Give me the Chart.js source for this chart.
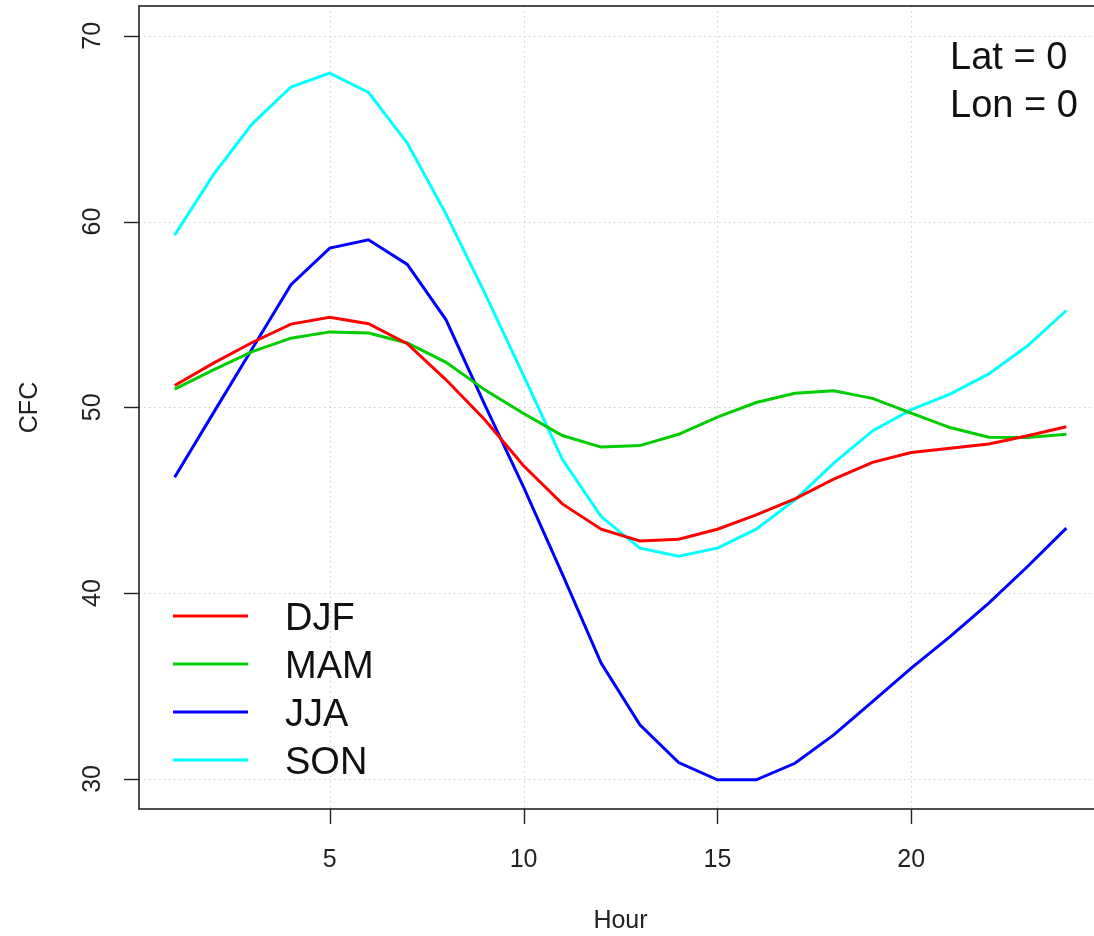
<!DOCTYPE html>
<html>
<head>
<meta charset="utf-8">
<script src="https://cdn.jsdelivr.net/npm/chart.js@4/dist/chart.umd.min.js"></script>
<style>
  html, body { margin: 0; padding: 0; background: #ffffff; overflow: hidden; width: 1094px; height: 936px; }
  #wrap { width: 1094px; height: 936px; overflow: hidden; position: relative; }
  canvas { display: block; }
</style>
</head>
<body>
<div id="wrap"><canvas id="c" width="1110" height="936"></canvas></div>
<script>
const hours = [1,2,3,4,5,6,7,8,9,10,11,12,13,14,15,16,17,18,19,20,21,22,23,24];
const djf = [51.17, 52.38, 53.49, 54.48, 54.84, 54.50, 53.42, 51.48, 49.33, 46.85, 44.80, 43.44, 42.81, 42.90, 43.44, 44.21, 45.07, 46.13, 47.04, 47.57, 47.80, 48.03, 48.47, 48.95];
const mam = [50.98, 52.02, 53.00, 53.72, 54.06, 54.00, 53.46, 52.42, 50.94, 49.67, 48.48, 47.86, 47.94, 48.55, 49.47, 50.26, 50.76, 50.89, 50.48, 49.69, 48.91, 48.39, 48.38, 48.55];
const jja = [46.24, 49.70, 53.15, 56.60, 58.57, 59.02, 57.69, 54.71, 50.13, 45.70, 41.02, 36.23, 32.91, 30.88, 29.95, 29.95, 30.84, 32.37, 34.16, 35.96, 37.66, 39.46, 41.43, 43.50];
const son = [59.27, 62.52, 65.26, 67.24, 67.99, 66.95, 64.22, 60.40, 56.15, 51.70, 47.20, 44.12, 42.42, 41.99, 42.42, 43.44, 45.02, 47.00, 48.73, 49.87, 50.71, 51.80, 53.31, 55.21];
const seriesNames = ['DJF', 'MAM', 'JJA', 'SON'];
const seriesColors = ['#ff0000', '#00cd00', '#0000ff', '#00ffff'];
const xTicks = [5, 10, 15, 20];
const yTicks = [30, 40, 50, 60, 70];
const xTitle = 'Hour';
const yTitle = 'CFC';
const noteLines = ['Lat = 0', 'Lon = 0'];

const FONT = "'Liberation Sans', Arial, Helvetica, sans-serif";
const seriesValues = [djf, mam, jja, son];

const rPlot = {
  id: 'rPlot',
  beforeDatasetsDraw(chart) {
    const ctx = chart.ctx, a = chart.chartArea;
    const xs = chart.scales.x, ys = chart.scales.y;
    ctx.save();
    ctx.strokeStyle = '#cfcfcf';
    ctx.lineWidth = 1;
    ctx.setLineDash([1.5, 3.5]);
    xTicks.forEach(v => {
      const x = Math.round(xs.getPixelForValue(v)) + 0.5;
      ctx.beginPath(); ctx.moveTo(x, a.top); ctx.lineTo(x, a.bottom); ctx.stroke();
    });
    yTicks.forEach(v => {
      const y = Math.round(ys.getPixelForValue(v)) + 0.5;
      ctx.beginPath(); ctx.moveTo(a.left, y); ctx.lineTo(a.right, y); ctx.stroke();
    });
    ctx.restore();
  },
  afterDatasetsDraw(chart) {
    const ctx = chart.ctx, a = chart.chartArea;
    const xs = chart.scales.x, ys = chart.scales.y;
    ctx.save();
    ctx.setLineDash([]);
    ctx.strokeStyle = '#222';
    ctx.lineWidth = 1.6;
    ctx.strokeRect(a.left, a.top, a.right - a.left, a.bottom - a.top);
    // ticks
    ctx.lineWidth = 1.4;
    xTicks.forEach(v => {
      const x = Math.round(xs.getPixelForValue(v)) + 0.5;
      ctx.beginPath(); ctx.moveTo(x, a.bottom); ctx.lineTo(x, a.bottom + 15); ctx.stroke();
    });
    yTicks.forEach(v => {
      const y = Math.round(ys.getPixelForValue(v)) + 0.5;
      ctx.beginPath(); ctx.moveTo(a.left, y); ctx.lineTo(a.left - 15, y); ctx.stroke();
    });
    // tick labels
    ctx.fillStyle = '#222';
    ctx.font = '25px ' + FONT;
    ctx.textAlign = 'center';
    ctx.textBaseline = 'alphabetic';
    xTicks.forEach(v => {
      ctx.fillText(String(v), xs.getPixelForValue(v), a.bottom + 58);
    });
    yTicks.forEach(v => {
      ctx.save();
      ctx.translate(100, ys.getPixelForValue(v));
      ctx.rotate(-Math.PI / 2);
      ctx.fillText(String(v), 0, 0);
      ctx.restore();
    });
    // axis titles
    const cx = (a.left + a.right) / 2, cy = (a.top + a.bottom) / 2;
    ctx.fillText(xTitle, cx, 928);
    ctx.save();
    ctx.translate(37, cy);
    ctx.rotate(-Math.PI / 2);
    ctx.fillText(yTitle, 0, 0);
    ctx.restore();
    // note top right
    ctx.font = '38px ' + FONT;
    ctx.textAlign = 'left';
    ctx.fillStyle = '#111';
    ctx.fillText(noteLines[0], 950, 69);
    ctx.fillText(noteLines[1], 950, 117);
    // legend
    const legY = [616, 664, 712, 760];
    seriesNames.forEach((n, i) => {
      ctx.strokeStyle = seriesColors[i];
      ctx.lineWidth = 3;
      ctx.beginPath(); ctx.moveTo(173, legY[i]); ctx.lineTo(248, legY[i]); ctx.stroke();
      ctx.fillStyle = '#111';
      ctx.fillText(n, 285, legY[i] + 14);
    });
    ctx.restore();
  }
};

new Chart(document.getElementById('c'), {
  type: 'line',
  data: {
    datasets: seriesNames.map((n, i) => ({
      label: n,
      data: hours.map((h, k) => ({ x: h, y: seriesValues[i][k] })),
      borderColor: seriesColors[i],
      backgroundColor: seriesColors[i],
      borderWidth: 3,
      pointRadius: 0,
      tension: 0,
      fill: false
    }))
  },
  options: {
    responsive: false,
    devicePixelRatio: 1,
    animation: false,
    layout: { padding: { left: 139, top: 6, right: 8, bottom: 127 } },
    plugins: { legend: { display: false }, tooltip: { enabled: false } },
    scales: {
      x: { type: 'linear', min: 0.08, max: 24.92, display: false },
      y: { type: 'linear', min: 28.38, max: 71.6, display: false }
    }
  },
  plugins: [rPlot]
});
</script>
</body>
</html>
